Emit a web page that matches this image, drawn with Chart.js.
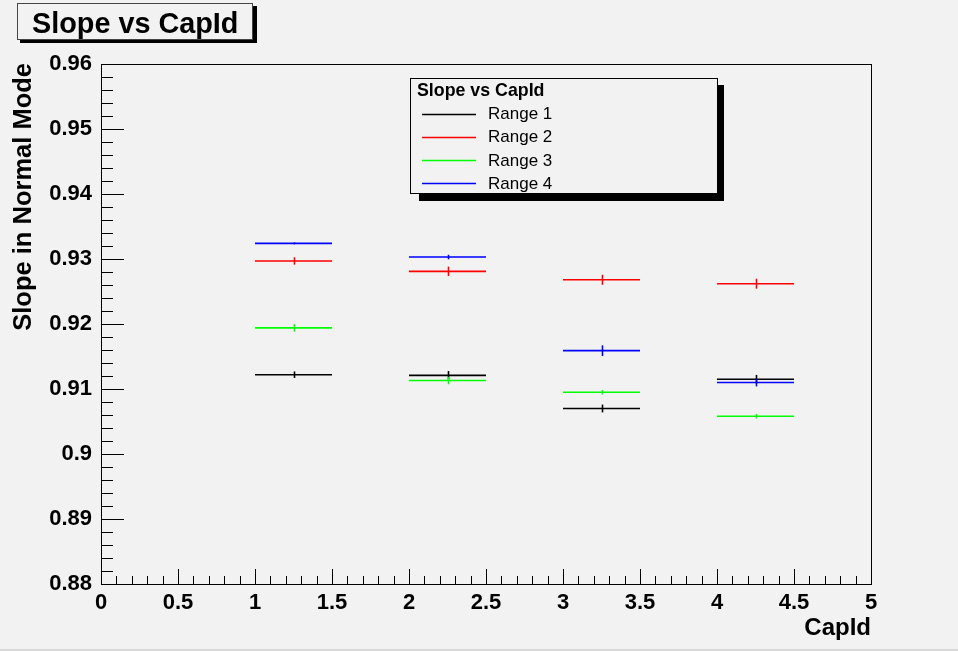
<!DOCTYPE html>
<html>
<head>
<meta charset="utf-8">
<script src="https://cdn.jsdelivr.net/npm/chart.js@4.4.1/dist/chart.umd.min.js"></script>
<style>
  html, body { margin: 0; padding: 0; background: #f2f2f2; }
  #wrap { width: 958px; height: 651px; position: relative; }
</style>
</head>
<body>
<div id="wrap"><canvas id="myChart" width="958" height="651"></canvas></div>
<script>
// data
const capIds = [1.25, 2.25, 3.25, 4.25];
const capErr = [0.25, 0.25, 0.25, 0.25];

const range1 = [0.9122, 0.9121, 0.9070, 0.9115];
const range1Err = [0.0005, 0.00066, 0.0006, 0.00066];
const range2 = [0.9297, 0.9281, 0.9268, 0.9262];
const range2Err = [0.00057, 0.00072, 0.00077, 0.00077];
const range3 = [0.9194, 0.9113, 0.9095, 0.9058];
const range3Err = [0.00057, 0.00057, 0.00035, 0.00035];
const range4 = [0.9324, 0.9303, 0.9159, 0.9110];
const range4Err = [0.00015, 0.00035, 0.00082, 0.0006];

const seriesNames = ['Range 1', 'Range 2', 'Range 3', 'Range 4'];
const seriesColors = ['#000000', '#ff0000', '#00ff00', '#0000ff'];

const xMin = 0, xMax = 5, xStep = 0.5, xMinor = 0.1;
const yMin = 0.88, yMax = 0.96, yStep = 0.01, yMinor = 0.002;

const FONT = 'Liberation Sans, Arial, Helvetica, sans-serif';

function segs(vals) {
  const out = [];
  capIds.forEach((c, i) => {
    out.push({x: c - capErr[i], y: vals[i]});
    out.push({x: c + capErr[i], y: vals[i]});
    out.push({x: c + capErr[i], y: null});
  });
  return out;
}

const allVals = [range1, range2, range3, range4];
const allErrs = [range1Err, range2Err, range3Err, range4Err];

const datasets = allVals.map((v, k) => ({
  label: seriesNames[k],
  data: segs(v),
  vals: v,
  errs: allErrs[k],
  showLine: true,
  spanGaps: false,
  borderColor: seriesColors[k],
  backgroundColor: seriesColors[k],
  borderWidth: 1.6,
  pointRadius: 0
}));

// ROOT style extras: inward ticks, frame, error bars, boxes
const rootStyle = {
  id: 'rootStyle',
  afterDatasetsDraw(chart) {
    const ctx = chart.ctx;
    const xs = chart.scales.x, ys = chart.scales.y;
    ctx.save();
    chart.data.datasets.forEach(ds => {
      ctx.strokeStyle = ds.borderColor;
      ctx.lineWidth = 1.6;
      ds.vals.forEach((v, i) => {
        const px = Math.round(xs.getPixelForValue(capIds[i])) + 0.5;
        ctx.beginPath();
        ctx.moveTo(px, ys.getPixelForValue(v - ds.errs[i]));
        ctx.lineTo(px, ys.getPixelForValue(v + ds.errs[i]));
        ctx.stroke();
      });
    });
    ctx.restore();
  },
  afterDraw(chart) {
    const ctx = chart.ctx;
    const a = chart.chartArea;
    const xs = chart.scales.x, ys = chart.scales.y;
    ctx.save();

    // frame
    ctx.strokeStyle = '#000';
    ctx.lineWidth = 1;
    ctx.strokeRect(Math.round(a.left) + 0.5, Math.round(a.top) + 0.5,
      Math.round(a.right - a.left), Math.round(a.bottom - a.top));

    // y ticks (inward)
    ctx.beginPath();
    const ny = Math.round((yMax - yMin) / yMinor);
    for (let i = 0; i <= ny; i++) {
      const v = yMin + i * yMinor;
      const py = Math.round(ys.getPixelForValue(v)) + 0.5;
      const major = i % Math.round(yStep / yMinor) === 0;
      ctx.moveTo(a.left, py);
      ctx.lineTo(a.left + (major ? 23 : 12), py);
    }
    // x ticks (inward)
    const nx = Math.round((xMax - xMin) / xMinor);
    for (let i = 0; i <= nx; i++) {
      const v = xMin + i * xMinor;
      const px = Math.round(xs.getPixelForValue(v)) + 0.5;
      const major = i % Math.round(xStep / xMinor) === 0;
      ctx.moveTo(px, a.bottom);
      ctx.lineTo(px, a.bottom - (major ? 15 : 8));
    }
    ctx.stroke();

    // axis titles
    ctx.fillStyle = '#000';
    ctx.font = 'bold 24px ' + FONT;
    ctx.textAlign = 'right';
    ctx.textBaseline = 'alphabetic';
    ctx.fillText('CapId', a.right, 635);
    ctx.save();
    ctx.font = 'bold 25.5px ' + FONT;
    ctx.translate(31, a.top - 1);
    ctx.rotate(-Math.PI / 2);
    ctx.fillText('Slope in Normal Mode', 0, 0);
    ctx.restore();

    // title box
    ctx.fillStyle = '#000';
    ctx.fillRect(20, 6, 237, 37);
    ctx.fillStyle = '#f2f2f2';
    ctx.fillRect(17, 3, 236, 37);
    ctx.strokeStyle = '#444';
    ctx.strokeRect(17.5, 3.5, 235, 36);
    ctx.fillStyle = '#000';
    ctx.font = 'bold 28.8px ' + FONT;
    ctx.textAlign = 'left';
    ctx.fillText('Slope vs CapId', 32, 33);

    // legend box
    ctx.fillStyle = '#000';
    ctx.fillRect(419, 85, 305, 116);
    ctx.fillStyle = '#f2f2f2';
    ctx.fillRect(410, 78, 308, 116);
    ctx.strokeStyle = '#000';
    ctx.strokeRect(410.5, 78.5, 307, 115);
    ctx.fillStyle = '#000';
    ctx.font = 'bold 17.8px ' + FONT;
    ctx.fillText('Slope vs CapId', 417, 96);
    ctx.font = '17px ' + FONT;
    ctx.textBaseline = 'middle';
    seriesNames.forEach((n, k) => {
      const ly = 113.5 + k * 23.3;
      ctx.strokeStyle = seriesColors[k];
      ctx.lineWidth = 1.4;
      ctx.beginPath();
      ctx.moveTo(422, Math.round(ly) + 0.5);
      ctx.lineTo(476, Math.round(ly) + 0.5);
      ctx.stroke();
      ctx.fillStyle = '#000';
      ctx.fillText(n, 488, ly + 1);
    });

    // bottom edge line
    ctx.fillStyle = '#d8d8d8';
    ctx.fillRect(0, 649, chart.width, 2);
    ctx.restore();
  }
};

const ctx = document.getElementById('myChart');
const myChart = new Chart(ctx, {
  type: 'scatter',
  data: { datasets: datasets },
  plugins: [rootStyle],
  options: {
    responsive: false,
    devicePixelRatio: 1,
    animation: false,
    layout: { padding: { top: 64, right: 87, left: 0, bottom: 0 } },
    plugins: {
      legend: { display: false },
      tooltip: { enabled: false },
      title: { display: false }
    },
    scales: {
      x: {
        type: 'linear',
        min: xMin,
        max: xMax,
        afterFit: s => { s.height = 67; },
        grid: { display: false, drawTicks: false },
        border: { display: false },
        ticks: {
          stepSize: xStep,
          padding: 6,
          color: '#000',
          maxRotation: 0,
          font: { family: FONT, size: 22, weight: 'bold' },
          callback: v => String(parseFloat(Number(v).toFixed(1)))
        }
      },
      y: {
        type: 'linear',
        min: yMin,
        max: yMax,
        afterFit: s => { s.width = 101; },
        grid: { display: false, drawTicks: false },
        border: { display: false },
        ticks: {
          stepSize: yStep,
          padding: 9,
          color: '#000',
          font: { family: FONT, size: 22, weight: 'bold' },
          callback: v => String(parseFloat(Number(v).toFixed(2)))
        }
      }
    }
  }
});
</script>
</body>
</html>
